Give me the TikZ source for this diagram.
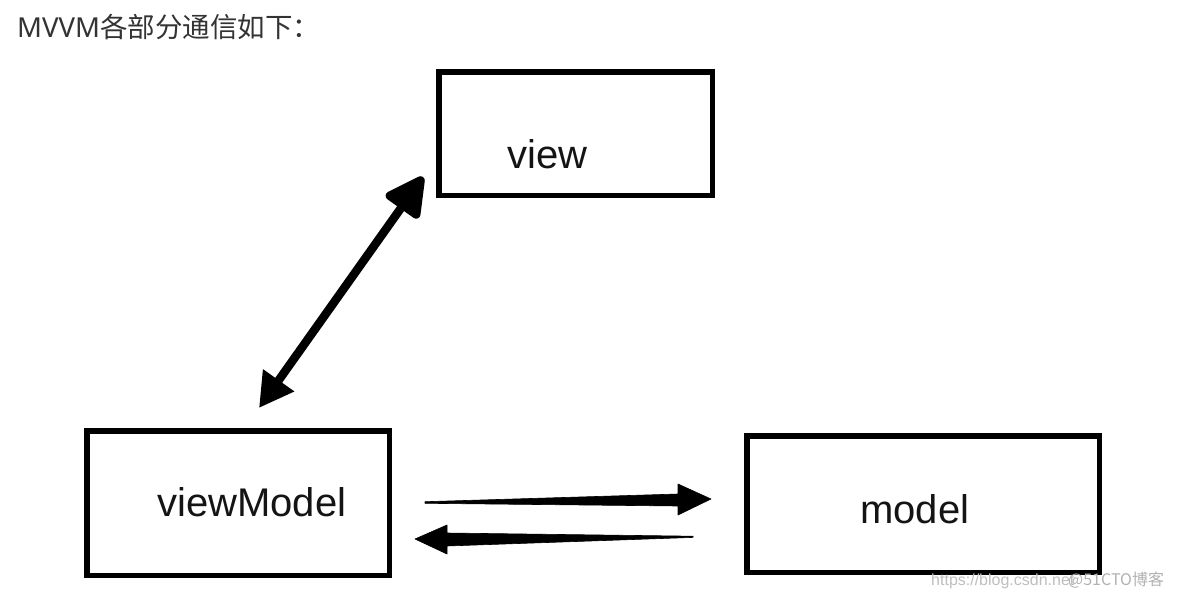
\documentclass[tikz,border=0pt]{standalone}
\usepackage{fontspec}
\setmainfont{Liberation Sans}
\newfontfamily\cjk{Noto Sans CJK SC}
\newfontfamily\latinsans{Noto Sans}
\usetikzlibrary{arrows.meta,calc}
\begin{document}
\begin{tikzpicture}[x=1pt,y=-1pt,
  box/.style={draw=black, line width=5.5pt, inner sep=0pt},
  lbl/.style={anchor=base west, inner sep=0pt, font=\fontsize{40}{40}\selectfont, text=black!92},
  wmark/.style={anchor=base west, inner sep=0pt, font=\fontsize{16}{16}\selectfont, text=black!25},
  tapered/.style={fill=black, draw=black, line width=0.6pt, line join=round}]
\useasboundingbox (0,0) rectangle (1178,598);
\fill[white] (0,0) rectangle (1178,598);
% title
\node[anchor=base west, inner sep=0pt, font=\cjk\fontsize{27.5}{27.5}\selectfont, text=black!80] (title) at (17,37) {{\latinsans MVVM}各部分通信如下：};
% boxes
\node[box, minimum width=273.5pt, minimum height=123.5pt] (view) at (575.5,133.5) {};
\node[box, minimum width=302.5pt, minimum height=144.5pt] (vm) at (238,503) {};
\node[box, minimum width=352.5pt, minimum height=136.5pt] (model) at (923,504) {};
% labels
\node[lbl] (viewlbl) at (507,168) {view};
\node[lbl] (vmlbl) at (157,516.5) {viewModel};
\node[lbl] (modellbl) at (860,523) {model};
% diagonal double arrow between viewModel and view
\coordinate (vmtop) at (259,408);
\coordinate (viewleft) at (423,177);
\draw[line width=8.5pt, line cap=round,
  {Triangle[length=34pt,width=36pt]}-{Triangle[length=44pt,width=44pt,round]}]
  (vmtop) -- (viewleft);
% viewModel -> model (tapered)
\coordinate (vmR) at (425,502.5);
\coordinate (mL) at (711,499);
\path[tapered] ($(vmR)+(0,-0.8)$) -- (678,494) -- (678,484) -- (mL) -- (678,515) -- (678,506) -- ($(vmR)+(0,0.8)$) -- cycle;
% model -> viewModel (tapered)
\coordinate (mL2) at (693,536.8);
\coordinate (vmR2) at (415,539);
\path[tapered] (vmR2) -- (447,525) -- (447,533) -- ($(mL2)+(0,-0.6)$) -- ($(mL2)+(0,0.6)$) -- (447,546) -- (447,554) -- cycle;
% watermark
\node[wmark] (wm1) at (931,585) {https://blog.csdn.net};
\node[wmark, font=\cjk\fontsize{16}{16}\selectfont, text=black!30] (wm2) at (1068,585) {@51CTO博客};
\end{tikzpicture}
\end{document}
